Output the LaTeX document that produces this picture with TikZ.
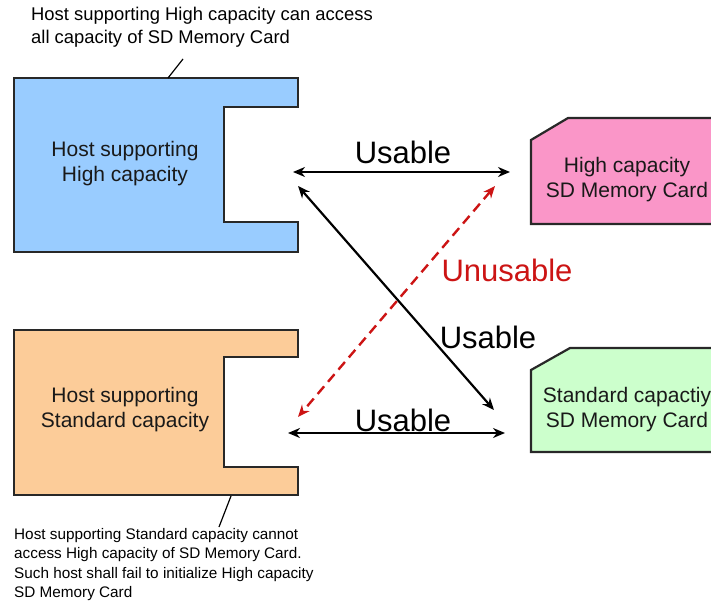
\documentclass[tikz,border=0pt]{standalone}
\usepackage{fontspec}
\setmainfont{Liberation Sans}
\usetikzlibrary{arrows.meta}
\definecolor{hostblue}{RGB}{153,204,255}
\definecolor{hostorange}{RGB}{252,204,153}
\definecolor{cardpink}{RGB}{250,150,200}
\definecolor{cardgreen}{RGB}{204,255,204}
\definecolor{edgegray}{RGB}{40,40,40}
\definecolor{unred}{RGB}{204,20,20}
\tikzset{
  outline/.style={draw=edgegray, line width=2.2pt, line join=miter},
  boxtext/.style={align=center, font=\fontsize{21}{25}\selectfont, text=black!90},
  bigtext/.style={font=\fontsize{31}{36}\selectfont, inner sep=0pt},
  usearrow/.style={line width=2.2pt, {Stealth[length=12pt,width=10pt]}-{Stealth[length=12pt,width=10pt]}},
  unarrow/.style={line width=2.4pt, draw=unred, dash pattern=on 10pt off 6pt, {Stealth[length=12pt,width=10pt]}-{Stealth[length=12pt,width=10pt]}, unred},
  notetext/.style={align=left, inner sep=0pt, anchor=north west},
  leader/.style={line width=1.2pt, draw=black}
}
\begin{document}
\begin{tikzpicture}[x=1pt,y=-1pt]
\useasboundingbox (0,0) rectangle (711,604);
% hosts
\draw[outline, fill=hostblue] (14,78) -- (298,78) -- (298,107) -- (224,107) -- (224,222) -- (298,222) -- (298,252) -- (14,252) -- cycle;
\draw[outline, fill=hostorange] (14,330) -- (298,330) -- (298,357) -- (224,357) -- (224,467) -- (298,467) -- (298,495) -- (14,495) -- cycle;
% cards
\draw[outline, fill=cardpink] (531,140) -- (568,118) -- (730,118) -- (730,224) -- (531,224) -- cycle;
\draw[outline, fill=cardgreen] (531,370) -- (570,348) -- (730,348) -- (730,452) -- (531,452) -- cycle;
% texts
\node[boxtext] (hhc) at (125,164) {Host supporting\\High capacity};
\node[boxtext] (hsc) at (125,410) {Host supporting\\Standard capacity};
\node[boxtext] (chc) at (627,180) {High capacity\\SD Memory Card};
\node[boxtext] (csc) at (627,410) {Standard capactiy\\SD Memory Card};
% connector end points
\coordinate (hhcR) at (293,172);
\coordinate (chcL) at (510,172);
\coordinate (hscR) at (288,433);
\coordinate (cscL) at (505,433);
\coordinate (hhcD) at (298,186);
\coordinate (cscU) at (494,410);
\coordinate (chcD) at (495,186);
\coordinate (hscU) at (298,417);
\draw[usearrow] (hhcR) -- (chcL);
\draw[usearrow] (hscR) -- (cscL);
\draw[usearrow] (hhcD) -- (cscU);
\draw[unarrow] (chcD) -- (hscU);
\node[bigtext] (u1) at (403,152) {Usable};
\node[bigtext] (u2) at (403,420) {Usable};
\node[bigtext] (u3) at (488,337) {Usable};
\node[bigtext, text=unred] (un) at (507,270) {Unusable};
% notes
\node[notetext, font=\fontsize{18.4}{23}\selectfont] (ntop) at (31,7) {Host supporting High capacity can access\\all capacity of SD Memory Card};
\coordinate (ltopA) at (183,59);
\coordinate (ltopB) at (168,78);
\draw[leader] (ltopA) -- (ltopB);
\node[notetext, font=\fontsize{15.3}{19.5}\selectfont] (nbot) at (14,528) {Host supporting Standard capacity cannot\\access High capacity of SD Memory Card.\\Such host shall fail to initialize High capacity\\SD Memory Card};
\coordinate (lbotA) at (231,496);
\coordinate (lbotB) at (219,527);
\draw[leader] (lbotA) -- (lbotB);
\end{tikzpicture}
\end{document}
